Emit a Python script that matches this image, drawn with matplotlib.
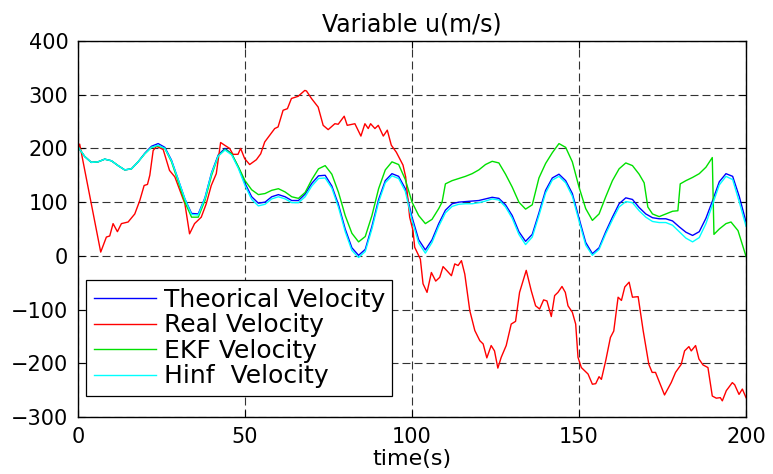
import matplotlib
matplotlib.use("Agg")
import matplotlib.pyplot as plt

plt.rcParams['font.family'] = ['DejaVu Sans']

# ---------------- data ----------------
t_model = list(range(0, 201, 2))

theorical = [203, 185, 174, 175, 180, 177, 168, 160, 162, 175,
             191, 204, 209, 202, 178, 142, 106, 79, 78, 108,
             155, 188, 200, 190, 165, 135, 110, 98, 100, 110,
             114, 110, 103, 103, 115, 135, 149, 150, 130, 95,
             50, 15, 1, 12, 55, 105, 140, 153, 148, 125,
             72, 30, 11, 30, 60, 85, 97, 100, 101, 102,
             103, 106, 109, 107, 95, 75, 45, 27, 40, 80,
             122, 145, 152, 140, 116, 70, 25, 4, 15, 45,
             72, 97, 108, 105, 90, 78, 71, 69, 69, 65,
             54, 44, 38, 45, 70, 103, 138, 153, 148, 110,
             63]

hinf = [203, 185, 174, 175, 180, 177, 168, 160, 162, 175,
        190, 202, 206, 200, 177, 142, 106, 77, 76, 107,
        154, 186, 197, 188, 163, 131, 105, 93, 96, 106,
        110, 106, 99, 99, 110, 130, 144, 145, 126, 90,
        45, 10, -3, 8, 50, 100, 136, 149, 144, 120,
        66, 24, 5, 25, 55, 80, 92, 96, 97, 97,
        99, 102, 106, 104, 91, 70, 40, 21, 35, 75,
        117, 141, 148, 136, 111, 65, 20, 1, 12, 41,
        67, 91, 101, 99, 84, 72, 64, 62, 62, 57,
        45, 33, 26, 34, 60, 96, 132, 148, 142, 100,
        55]

t_ekf = [0, 2, 4, 6, 8, 10, 12, 14, 16, 18, 20, 22, 24, 26, 28, 30, 32, 34, 36, 38,
         40, 42, 44, 46, 48, 50, 52, 54, 56, 58, 60, 62, 64, 66, 68, 70, 72, 74, 76, 78,
         80, 82, 84, 86, 88, 90, 92, 94, 96, 98, 100, 102, 104, 106, 108, 109, 110, 112,
         114, 116, 118, 120, 122, 124, 126, 128, 130, 132, 134, 136, 138, 140, 142, 144,
         146, 148, 150, 152, 154, 156, 158, 160, 162, 164, 166, 168, 169.5, 170.6, 172,
         174, 176, 178, 179.6, 180.3, 182, 184, 186, 188, 189.9, 190.4, 192, 194, 195.5,
         197.6, 200]
ekf = [203, 185, 174, 175, 180, 177, 168, 160, 162, 175, 190, 202, 205, 200, 175, 138,
       100, 72, 72, 103, 150, 186, 198, 190, 166, 140, 123, 114, 116, 122, 125, 119, 110,
       107, 118, 142, 162, 168, 152, 118, 75, 42, 26, 36, 75, 125, 160, 175, 170, 142,
       100, 75, 60, 68, 88, 100, 134, 140, 144, 148, 153, 160, 170, 176, 173, 152, 128,
       100, 87, 95, 145, 172, 192, 209, 202, 175, 128, 88, 66, 78, 110, 140, 162, 173,
       168, 152, 136, 91, 78, 73, 78, 83, 84, 134, 140, 146, 153, 165, 183, 40, 50, 60,
       63, 47, -1]

t_real = [0, 0.5, 6.8, 8.5, 9.5, 10.5, 11.8, 13, 15, 17, 18.5, 19.8, 20.8, 21.5, 22.5,
          23.5, 25.5, 27.4, 29, 32, 33.4, 34.9, 36.9, 38.4, 39.9, 41.4, 42.7, 43.9, 45.4,
          46.4, 47.9, 48.7, 49.9, 51.4, 53.4, 54.7, 55.9, 58.9, 59.9, 61.4, 62.7, 63.9,
          65.9, 67.9, 68.4, 69.9, 71.9, 73.4, 74.9, 76.9, 77.9, 79.7, 80.6, 82.9, 84.7,
          85.9, 86.9, 87.6, 88.9, 89.9, 91.4, 92.6, 93.8, 95.3, 97.3, 98.1, 99.3, 100.3,
          100.8, 102.5, 103.3, 104.5, 105.8, 107.1, 108.3, 109.3, 110.5, 111.8, 112.8,
          113.8, 114.8, 115.8, 117.3, 118.8, 120.3, 121.3, 122.4, 123.7, 124.7, 125.7,
          126.7, 128.2, 129.7, 131, 132.2, 134.2, 135.7, 137, 138.2, 139.4, 140.4, 141.7,
          142.7, 143.7, 144.9, 145.9, 146.7, 148, 149, 149.7, 150.7, 152.7, 154, 155, 156,
          156.7, 158, 159.4, 160.4, 161.7, 162.7, 163.7, 165, 166, 167.7, 169.2, 170.9,
          171.9, 172.9, 175.6, 177.6, 178.9, 180.6, 181.6, 182.9, 183.6, 184.9, 185.9,
          187.1, 188.6, 189.9, 191.1, 192.3, 192.9, 194.1, 195.9, 196.6, 197.9, 198.9, 200]
real = [200, 208, 7, 35, 37, 60, 45, 60, 63, 78, 103, 131, 133, 150, 196,
        204, 198, 159, 147, 97, 41, 60, 72, 97, 131, 153, 211, 206, 200,
        189, 189, 200, 181, 170, 179, 190, 212, 237, 240, 271, 274, 293,
        297, 308, 307, 293, 277, 243, 235, 246, 245, 260, 243, 246, 223,
        246, 237, 246, 237, 243, 223, 234, 206, 193, 169, 147, 72, 47,
        16, -6, -52, -68, -31, -47, -40, -20, -28, -37, -15,
        -18, -9, -34, -102, -139, -158, -164, -190, -167, -177, -209,
        -189, -167, -127, -122, -68, -27, -65, -93, -99, -82, -84, -113,
        -74, -68, -57, -68, -93, -105, -127, -189, -208, -220, -239, -238, -225,
        -230, -195, -152, -140, -77, -83, -58, -49, -77, -76, -139, -202,
        -217, -217, -259, -236, -217, -202, -177, -169, -177, -167, -192,
        -203, -208, -261, -265, -264, -270, -251, -236, -240, -258, -248, -264]

labels = ["Theorical Velocity", "Real Velocity", "EKF Velocity", "Hinf  Velocity"]
x_ticks = [0, 50, 100, 150, 200]
y_ticks = [-300, -200, -100, 0, 100, 200, 300, 400]

# ---------------- figure ----------------
fig = plt.figure(figsize=(7.73, 4.74), dpi=100)
ax = fig.add_axes([0.1009, 0.1203, 0.8642, 0.7932])

ax.plot(t_model, theorical, color='#0000ff', lw=1.0, label=labels[0])
ax.plot(t_real, real, color='#ff0000', lw=1.0, label=labels[1])
ax.plot(t_ekf, ekf, color='#00e000', lw=1.0, label=labels[2])
ax.plot(t_model, hinf, color='#00ffff', lw=1.0, label=labels[3])

ax.set_xlim(0, 200)
ax.set_ylim(-300, 400)
ax.set_xticks(x_ticks)
ax.set_yticks(y_ticks)
ax.tick_params(direction='in', top=True, right=True, length=5, width=0.8,
               labelsize=15, colors='black')
ax.tick_params(axis='y', pad=7)
ax.tick_params(axis='x', pad=7)
ax.grid(True, color='0.2', linestyle=(0, (7.2, 3.6)), linewidth=0.8)
for s in ax.spines.values():
    s.set_linewidth(1.0)
    s.set_color('black')

ax.set_title("Variable u(m/s)", fontsize=17, pad=7)
ax.set_xlabel("time(s)", fontsize=16, labelpad=2)

leg = ax.legend(loc='lower left', bbox_to_anchor=(0.012, 0.056), borderaxespad=0,
                fontsize=18, fancybox=False, framealpha=1, edgecolor='black',
                handlelength=2.5, handletextpad=0.3, labelspacing=0.06,
                borderpad=0.3)
leg.get_frame().set_linewidth(0.9)

fig.savefig("out.png", dpi=100)
